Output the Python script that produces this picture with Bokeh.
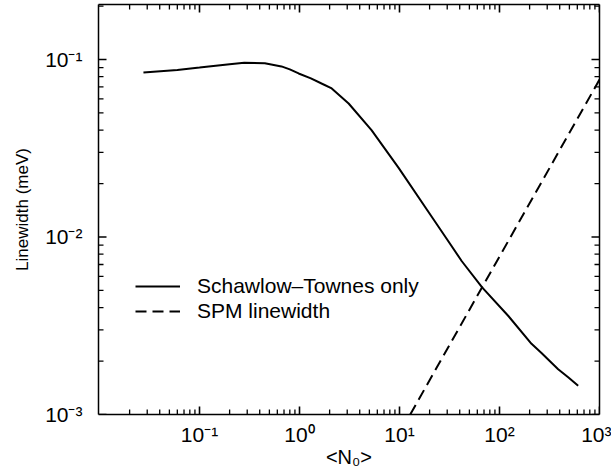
from bokeh.plotting import figure
from bokeh.models import (LogAxis, FixedTicker, CustomJSTickFormatter, Legend,
                          LegendItem, Range1d)
from bokeh.embed import file_html
from bokeh.resources import INLINE
import math

# Schawlow-Townes only linewidth (meV) vs <N0>
n_st = [0.0275, 0.06, 0.1, 0.2, 0.28, 0.45, 0.66, 0.8, 0.98, 1.3, 1.66, 2.1,
        3.1, 5.25, 9.8, 21, 29.5, 42, 67, 122, 209, 263, 386, 486, 612]
lw_st = [0.0845, 0.0873, 0.090, 0.094, 0.0958, 0.0952, 0.0914, 0.0879, 0.0834,
         0.0782, 0.0732, 0.0687, 0.0565, 0.040, 0.0245, 0.0130, 0.0098, 0.0073,
         0.0052, 0.0036, 0.0025, 0.00222, 0.0018, 0.00162, 0.00145]

# SPM linewidth (meV) vs <N0>
n_spm = [12.8, 1000.0]
lw_spm = [0.001, 0.077]

# axis ranges and ticks
x_lo, x_hi = 0.00977, 1000.0
y_lo, y_hi = 0.001, 0.204
x_major = [0.1, 1, 10, 100, 1000]
y_major = [0.001, 0.01, 0.1]
x_minor = [m * 10.0 ** k for k in range(-2, 3) for m in range(2, 10)]
y_minor = [m * 10.0 ** k for k in range(-3, 0) for m in range(2, 10)
           if m * 10.0 ** k < y_hi]

FONT = "Liberation Sans"

p = figure(width=611, height=476, x_axis_type="log", y_axis_type="log",
           x_range=Range1d(x_lo, x_hi), y_range=Range1d(y_lo, y_hi),
           output_backend="svg", toolbar_location=None,
           min_border_left=98, min_border_right=12, min_border_top=4,
           min_border_bottom=62)
p.grid.visible = False
p.outline_line_color = None
p.background_fill_color = "white"
p.border_fill_color = "white"

fmt = CustomJSTickFormatter(code="""
const sup = {"-": "\\u207b", "0": "\\u2070", "1": "\\u00b9", "2": "\\u00b2", "3": "\\u00b3"};
const e = Math.round(Math.log10(tick));
return "10" + String(e).split("").map(c => sup[c]).join("");
""")


def style(ax, labels=True):
    ax.axis_line_color = "black"
    ax.axis_line_width = 1.5
    ax.major_tick_line_color = None
    ax.minor_tick_line_color = None
    ax.major_tick_in = 0
    ax.major_tick_out = 0
    ax.minor_tick_in = 0
    ax.minor_tick_out = 0
    if labels:
        ax.major_label_text_font = FONT
        ax.major_label_text_font_size = "21px"
        ax.major_label_text_color = "black"
        ax.axis_label_text_font = FONT
        ax.axis_label_text_font_size = "20px"
        ax.axis_label_text_font_style = "normal"
        ax.axis_label_text_color = "black"
    else:
        ax.major_label_text_font_size = "0px"
        ax.major_label_text_color = None
        ax.major_label_standoff = 0


xa = p.xaxis[0]
xa.ticker = FixedTicker(ticks=x_major)
xa.formatter = fmt
style(xa)
xa.major_label_standoff = 8
xa.axis_label = "<N\u2080>"
xa.axis_label_standoff = -3

ya = p.yaxis[0]
ya.ticker = FixedTicker(ticks=y_major)
ya.formatter = fmt
style(ya)
ya.major_label_standoff = 16
ya.axis_label = "Linewidth (meV)"
ya.axis_label_text_font_size = "17px"
ya.axis_label_standoff = 10

top = LogAxis(ticker=FixedTicker(ticks=x_major))
style(top, labels=False)
p.add_layout(top, "above")
right = LogAxis(ticker=FixedTicker(ticks=y_major))
style(right, labels=False)
p.add_layout(right, "right")

# inward tick marks on all four sides
TK = dict(length_units="screen", line_color="black")
for xs, ln, w in ((x_major, 8, 1.6), (x_minor, 5, 1.3)):
    p.ray(x=xs, y=[y_lo] * len(xs), length=ln, angle=math.pi / 2, line_width=w, **TK)
    p.ray(x=xs, y=[y_hi] * len(xs), length=ln, angle=-math.pi / 2, line_width=w, **TK)
for ys, ln, w in ((y_major, 8, 1.6), (y_minor, 5, 1.3)):
    p.ray(x=[x_lo] * len(ys), y=ys, length=ln, angle=0, line_width=w, **TK)
    p.ray(x=[x_hi] * len(ys), y=ys, length=ln, angle=math.pi, line_width=w, **TK)

r1 = p.line(n_st, lw_st, line_color="black", line_width=2)
r2 = p.line(n_spm, lw_spm, line_color="black", line_width=2, line_dash="11 6")

legend = Legend(items=[LegendItem(label="Schawlow\u2013Townes only", renderers=[r1]),
                       LegendItem(label="SPM linewidth", renderers=[r2])],
                location=(37, 91), padding=0, margin=0, spacing=1,
                glyph_width=45, glyph_height=20, label_height=20,
                label_standoff=17, border_line_color=None,
                background_fill_alpha=0,
                label_text_font=FONT, label_text_font_size="21px",
                label_text_color="black")
p.add_layout(legend)

open("out.html", "w").write(file_html(p, INLINE))
